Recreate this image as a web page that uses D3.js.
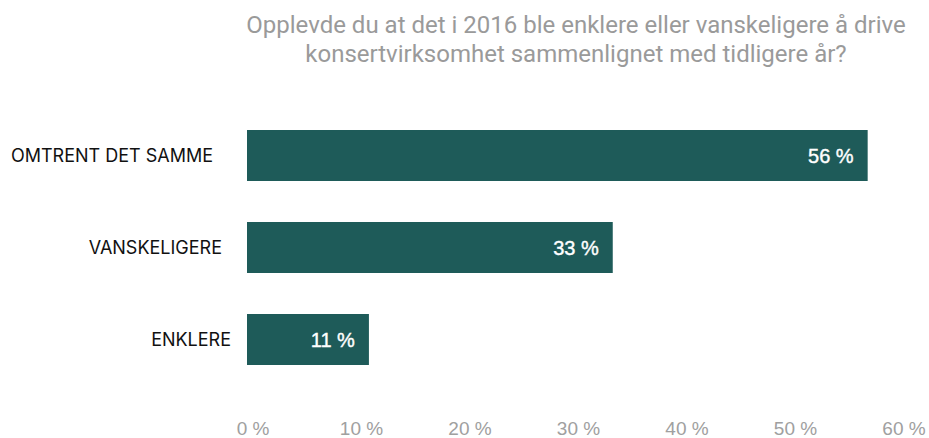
<!DOCTYPE html>
<html>
<head>
<meta charset="utf-8">
<script src="https://cdn.jsdelivr.net/npm/d3@7"></script>
<style>
  body { margin: 0; background: #fff; }
  svg { display: block; }
  .title { font-family: Roboto, sans-serif; font-size: 24px; fill: #9a9a9a; }
  .cat { font-family: Inter, sans-serif; font-size: 18px; fill: #111; }
  .val { font-family: "Liberation Sans", Arial, sans-serif; font-size: 20px; fill: #fff; stroke: #fff; stroke-width: 0.4px; }
  .axis text { font-family: "Liberation Sans", Arial, sans-serif; font-size: 19px; fill: #a0a0a0; }
</style>
</head>
<body>
<script>
const WIDTH = 929, HEIGHT = 438

// data
const categories = ['OMTRENT DET SAMME', 'VANSKELIGERE', 'ENKLERE']
const values = [56, 33, 11]
const tickValues = [0, 10, 20, 30, 40, 50, 60]
const titleLines = [
  'Opplevde du at det i 2016 ble enklere eller vanskeligere å drive',
  'konsertvirksomhet sammenlignet med tidligere år?'
]

const BAR_COLOR = '#1e5b59'

let svg = d3.select('body').append('svg')
  .attr('width', WIDTH)
  .attr('height', HEIGHT)

let x = d3.scaleLinear()
  .domain([0, 60])
  .range([247, 912])

// tick labels sit slightly inside the plot range
let xLabels = x.copy().range([252.5, 903.5])

let y = d3.scaleBand()
  .domain(categories)
  .range([130, 365])
  .paddingInner(41 / 92)

// title
svg.append('text')
  .attr('class', 'title')
  .attr('text-anchor', 'middle')
  .selectAll('tspan')
    .data(titleLines)
  .enter().append('tspan')
    .attr('x', 576)
    .attr('y', (d, i) => 33 + i * 29)
    .text(d => d)

// bars
svg.append('g')
  .selectAll('rect')
    .data(values)
  .enter().append('rect')
    .attr('x', x(0))
    .attr('y', (d, i) => y(categories[i]))
    .attr('width', d => x(d) - x(0))
    .attr('height', y.bandwidth())
    .attr('fill', BAR_COLOR)

// value labels
svg.append('g')
  .selectAll('text')
    .data(values)
  .enter().append('text')
    .attr('class', 'val')
    .attr('text-anchor', 'end')
    .attr('x', d => x(d) - 14)
    .attr('y', (d, i) => y(categories[i]) + y.bandwidth() / 2)
    .attr('dy', '.35em')
    .text(d => d + ' %')

// category labels (right edges step a little to the right going down)
let labelRight = d3.scaleLinear().domain([0, 2]).range([213, 231])

svg.append('g')
  .selectAll('text')
    .data(categories)
  .enter().append('text')
    .attr('class', 'cat')
    .attr('text-anchor', 'end')
    .attr('x', (d, i) => labelRight(i))
    .attr('y', d => y(d) + y.bandwidth() / 2)
    .attr('dy', '.35em')
    .text(d => d)

// x axis, labels only
let axis = d3.axisBottom(xLabels)
  .tickValues(tickValues)
  .tickSize(0)
  .tickPadding(0)
  .tickFormat(d => d + ' %')

let gx = svg.append('g')
  .attr('class', 'axis')
  .attr('transform', 'translate(0,' + 420 + ')')
  .call(axis)

gx.select('.domain').remove()
gx.selectAll('text').attr('dy', '0.8em')
</script>
</body>
</html>
